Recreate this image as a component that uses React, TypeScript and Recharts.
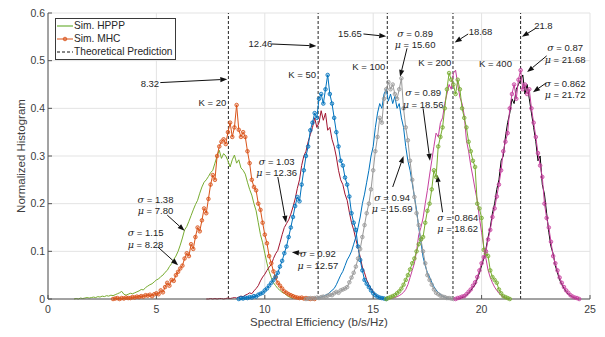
import React from 'react';
import { LineChart, Line, XAxis, YAxis, CartesianGrid, ReferenceLine, ReferenceDot } from 'recharts';

// ---------- data ----------
const STEP = 0.1;
const xTicks = [0, 5, 10, 15, 20, 25];
const yTicks = [0, 0.1, 0.2, 0.3, 0.4, 0.5, 0.6];
const theoretical = [8.32, 12.46, 15.65, 18.68, 21.8];

const hpppK20Start = 1.2;
const hpppK20 = [0, 0.001, 0, 0.002, 0.001, 0.002, 0.003, 0.002, 0.003, 0.004, 0.003, 0.005, 0.004, 0.006, 0.005, 0.007, 0.006, 0.008, 0.007, 0.009, 0.011, 0.013, 0.016, 0.01, 0.008, 0.01, 0.012, 0.011, 0.013, 0.015, 0.017, 0.02, 0.019, 0.024, 0.027, 0.03, 0.032, 0.036, 0.04, 0.042, 0.047, 0.05, 0.056, 0.06, 0.068, 0.074, 0.083, 0.09, 0.1, 0.113, 0.128, 0.145, 0.152, 0.163, 0.175, 0.187, 0.198, 0.207, 0.222, 0.235, 0.245, 0.25, 0.257, 0.265, 0.27, 0.285, 0.3, 0.312, 0.295, 0.305, 0.3, 0.29, 0.277, 0.292, 0.302, 0.285, 0.292, 0.275, 0.27, 0.262, 0.245, 0.23, 0.218, 0.2, 0.185, 0.16, 0.135, 0.118, 0.096, 0.075, 0.058, 0.045, 0.034, 0.028, 0.022, 0.018, 0.014, 0.012, 0.008, 0.005, 0.003, 0.001];

const mhcK20Start = 3.0;
const mhcK20 = [0, 0.001, 0.002, 0, 0.002, 0.001, 0.003, 0.002, 0.002, 0.004, 0.003, 0.005, 0.004, 0.006, 0.005, 0.008, 0.007, 0.009, 0.006, 0.01, 0.012, 0.01, 0.018, 0.014, 0.025, 0.034, 0.028, 0.04, 0.038, 0.05, 0.057, 0.064, 0.07, 0.085, 0.096, 0.09, 0.115, 0.105, 0.13, 0.15, 0.142, 0.165, 0.19, 0.18, 0.21, 0.24, 0.26, 0.25, 0.3, 0.32, 0.33, 0.335, 0.325, 0.35, 0.37, 0.34, 0.36, 0.407, 0.355, 0.34, 0.35, 0.34, 0.31, 0.285, 0.25, 0.235, 0.228, 0.2, 0.187, 0.16, 0.135, 0.117, 0.09, 0.075, 0.058, 0.045, 0.034, 0.028, 0.022, 0.016, 0.013, 0.01, 0.008, 0.006, 0.004, 0.003, 0.002, 0.003, 0.001, 0.002, 0.001, 0, 0.001, 0];

const hpppK50Start = 7.3;
const hpppK50 = [0, 0, 0.001, 0, 0.001, 0, 0.001, 0.001, 0, 0.001, 0.002, 0.001, 0.002, 0.003, 0.002, 0.004, 0.006, 0.005, 0.008, 0.01, 0.013, 0.011, 0.017, 0.022, 0.028, 0.038, 0.046, 0.052, 0.06, 0.067, 0.072, 0.085, 0.095, 0.102, 0.118, 0.135, 0.15, 0.158, 0.166, 0.178, 0.193, 0.21, 0.232, 0.25, 0.28, 0.3, 0.31, 0.33, 0.345, 0.36, 0.38, 0.36, 0.37, 0.395, 0.375, 0.39, 0.354, 0.36, 0.335, 0.32, 0.298, 0.27, 0.25, 0.24, 0.22, 0.207, 0.182, 0.16, 0.145, 0.125, 0.108, 0.088, 0.067, 0.055, 0.04, 0.03, 0.022, 0.015, 0.009, 0.005, 0.002];

const mhcK50Start = 8.8;
const mhcK50 = [0, 0.002, 0.001, 0.003, 0.002, 0.004, 0.003, 0.006, 0.005, 0.009, 0.011, 0.013, 0.018, 0.022, 0.028, 0.034, 0.04, 0.047, 0.055, 0.068, 0.08, 0.096, 0.11, 0.13, 0.15, 0.172, 0.195, 0.214, 0.205, 0.24, 0.27, 0.3, 0.32, 0.354, 0.37, 0.39, 0.38, 0.42, 0.43, 0.41, 0.44, 0.47, 0.43, 0.41, 0.38, 0.35, 0.32, 0.29, 0.28, 0.255, 0.24, 0.215, 0.18, 0.16, 0.145, 0.11, 0.082, 0.06, 0.04, 0.032, 0.025, 0.018, 0.012, 0.008, 0.005, 0.003, 0.002, 0.001, 0];

const hpppK100Start = 12.0;
const hpppK100 = [0, 0.001, 0, 0.002, 0.001, 0.003, 0.004, 0.006, 0.008, 0.01, 0.014, 0.018, 0.022, 0.03, 0.04, 0.05, 0.058, 0.07, 0.082, 0.09, 0.1, 0.115, 0.13, 0.15, 0.172, 0.2, 0.22, 0.245, 0.27, 0.3, 0.32, 0.36, 0.39, 0.41, 0.4, 0.43, 0.44, 0.415, 0.43, 0.41, 0.425, 0.4, 0.41, 0.38, 0.36, 0.32, 0.29, 0.27, 0.243, 0.215, 0.187, 0.15, 0.12, 0.088, 0.07, 0.055, 0.046, 0.035, 0.026, 0.019, 0.014, 0.01, 0.006, 0.004, 0.002, 0];

const mhcK100Start = 11.9;
const mhcK100 = [0, 0.001, 0.002, 0.001, 0.002, 0.003, 0.002, 0.004, 0.005, 0.004, 0.007, 0.009, 0.008, 0.012, 0.015, 0.013, 0.018, 0.02, 0.022, 0.025, 0.035, 0.045, 0.055, 0.068, 0.085, 0.105, 0.13, 0.155, 0.18, 0.2, 0.23, 0.27, 0.31, 0.34, 0.38, 0.37, 0.42, 0.44, 0.455, 0.44, 0.45, 0.43, 0.42, 0.44, 0.463, 0.4, 0.36, 0.333, 0.29, 0.25, 0.214, 0.18, 0.155, 0.125, 0.1, 0.075, 0.05, 0.04, 0.03, 0.02, 0.013, 0.01, 0.007, 0.005, 0.004, 0.002, 0.002, 0.001, 0];

const hpppK200Start = 15.7;
const hpppK200 = [0, 0.001, 0.002, 0.003, 0.005, 0.007, 0.01, 0.014, 0.02, 0.03, 0.045, 0.06, 0.075, 0.1, 0.135, 0.15, 0.17, 0.2, 0.228, 0.26, 0.29, 0.32, 0.348, 0.34, 0.37, 0.38, 0.41, 0.43, 0.45, 0.44, 0.474, 0.48, 0.45, 0.423, 0.41, 0.385, 0.333, 0.31, 0.28, 0.256, 0.23, 0.207, 0.17, 0.14, 0.11, 0.085, 0.06, 0.045, 0.034, 0.025, 0.018, 0.012, 0.008, 0.004, 0.002, 0];

const mhcK200Start = 15.6;
const mhcK200 = [0, 0.002, 0.004, 0.006, 0.008, 0.012, 0.016, 0.022, 0.03, 0.04, 0.05, 0.062, 0.075, 0.085, 0.1, 0.115, 0.125, 0.13, 0.16, 0.185, 0.2, 0.23, 0.27, 0.256, 0.32, 0.34, 0.36, 0.4, 0.44, 0.474, 0.46, 0.45, 0.43, 0.46, 0.44, 0.4, 0.38, 0.36, 0.33, 0.31, 0.29, 0.277, 0.2, 0.19, 0.17, 0.103, 0.095, 0.09, 0.06, 0.046, 0.04, 0.034, 0.02, 0.012, 0.006, 0.004, 0.002, 0];

const hpppK400Start = 18.9;
const hpppK400 = [0, 0.001, 0.003, 0.004, 0.008, 0.012, 0.018, 0.024, 0.03, 0.042, 0.055, 0.07, 0.085, 0.105, 0.13, 0.15, 0.18, 0.2, 0.23, 0.25, 0.29, 0.3, 0.34, 0.37, 0.39, 0.42, 0.41, 0.44, 0.45, 0.46, 0.47, 0.43, 0.45, 0.42, 0.39, 0.36, 0.33, 0.29, 0.3, 0.24, 0.22, 0.18, 0.14, 0.11, 0.095, 0.07, 0.055, 0.04, 0.03, 0.022, 0.015, 0.01, 0.007, 0.004, 0.002, 0.001, 0];

const mhcK400Start = 18.8;
const mhcK400 = [0, 0.002, 0.003, 0.005, 0.006, 0.01, 0.015, 0.02, 0.028, 0.035, 0.046, 0.06, 0.075, 0.088, 0.1, 0.125, 0.145, 0.172, 0.19, 0.215, 0.24, 0.27, 0.31, 0.33, 0.348, 0.4, 0.43, 0.45, 0.42, 0.46, 0.48, 0.44, 0.45, 0.43, 0.44, 0.4, 0.37, 0.34, 0.306, 0.28, 0.256, 0.2, 0.17, 0.15, 0.12, 0.09, 0.075, 0.06, 0.045, 0.034, 0.025, 0.018, 0.013, 0.008, 0.005, 0.003, 0.002, 0];

// annotations (data coordinates)
const theoryLabels = [
  { text: '8.32', tx: 4.7, ty: 0.453, from: [5.18, 0.454], to: [8.27, 0.461] },
  { text: '12.46', tx: 9.8, ty: 0.535, from: [10.3, 0.535], to: [12.38, 0.531] },
  { text: '15.65', tx: 13.93, ty: 0.556, from: [14.55, 0.556], to: [15.6, 0.551] },
  { text: '18.68', tx: 19.95, ty: 0.561, from: [19.38, 0.556], to: [18.76, 0.538] },
  { text: '21.8', tx: 22.85, ty: 0.573, from: [22.5, 0.568], to: [21.86, 0.55] },
];
const kLabels = [
  { text: 'K = 20', x: 8.22, y: 0.413 },
  { text: 'K = 50', x: 12.36, y: 0.472 },
  { text: 'K = 100', x: 15.56, y: 0.488 },
  { text: 'K = 200', x: 18.6, y: 0.497 },
  { text: 'K = 400', x: 21.4, y: 0.494 },
];
const statLabels = [
  { s: '1.38', m: '7.80', x: 4.96, y: 0.21, from: [5.5, 0.176], to: [6.3, 0.143] },
  { s: '1.15', m: '8.28', x: 4.5, y: 0.14, from: [5.07, 0.109], to: [6.0, 0.071] },
  { s: '1.03', m: '12.36', x: 10.55, y: 0.29, from: [10.6, 0.256], to: [10.98, 0.16] },
  { s: '0.92', m: '12.57', x: 12.45, y: 0.096, from: [11.72, 0.096], to: [11.25, 0.098] },
  { s: '0.89', m: '15.60', x: 16.93, y: 0.558, from: [16.56, 0.526], to: [16.24, 0.466] },
  { s: '0.94', m: '15.69', x: 15.87, y: 0.214, from: [15.9, 0.235], to: [16.4, 0.3] },
  { s: '0.89', m: '18.56', x: 17.3, y: 0.434, from: [17.3, 0.4], to: [17.62, 0.29] },
  { s: '0.864', m: '18.62', x: 18.9, y: 0.172, from: [18.2, 0.182], to: [17.95, 0.26] },
  { s: '0.87', m: '21.68', x: 23.85, y: 0.528, from: [23.0, 0.51], to: [22.1, 0.476] },
  { s: '0.862', m: '21.72', x: 23.85, y: 0.453, from: [22.97, 0.453], to: [22.37, 0.434] },
];

// ---------- helpers ----------
const toPoints = (start: number, vals: number[]) =>
  vals.map((y, i) => ({ x: Math.round((start + i * STEP) * 100) / 100, y }));

const FONT = 'Liberation Sans, Arial, Helvetica, sans-serif';

const hpppSeries = [
  { key: 'h20', data: toPoints(hpppK20Start, hpppK20), color: '#77AC30' },
  { key: 'h50', data: toPoints(hpppK50Start, hpppK50), color: '#A2142F' },
  { key: 'h100', data: toPoints(hpppK100Start, hpppK100), color: '#0072BD' },
  { key: 'h200', data: toPoints(hpppK200Start, hpppK200), color: '#C63F9E' },
  { key: 'h400', data: toPoints(hpppK400Start, hpppK400), color: '#000000' },
];
const mhcSeries = [
  { key: 'm20', data: toPoints(mhcK20Start, mhcK20), color: '#D95319' },
  { key: 'm50', data: toPoints(mhcK50Start, mhcK50), color: '#0072BD' },
  { key: 'm100', data: toPoints(mhcK100Start, mhcK100), color: '#999999' },
  { key: 'm200', data: toPoints(mhcK200Start, mhcK200), color: '#77AC30' },
  { key: 'm400', data: toPoints(mhcK400Start, mhcK400), color: '#C63F9E' },
];

const Arrow = (p: any) => {
  const { x1, y1, x2, y2 } = p;
  const dx = x2 - x1;
  const dy = y2 - y1;
  const len = Math.sqrt(dx * dx + dy * dy) || 1;
  const ux = dx / len;
  const uy = dy / len;
  const hl = 7;
  const hw = 2.6;
  const bx = x2 - ux * hl;
  const by = y2 - uy * hl;
  const pts = `${x2},${y2} ${bx - uy * hw},${by + ux * hw} ${bx + uy * hw},${by - ux * hw}`;
  return (
    <g>
      <line x1={x1} y1={y1} x2={bx} y2={by} stroke="#111" strokeWidth={1} />
      <polygon points={pts} fill="#111" />
    </g>
  );
};

const legendStyle: React.CSSProperties = {
  position: 'absolute',
  left: 55,
  top: 18,
  width: 121,
  height: 42,
  border: '1px solid #3a3a3a',
  background: '#fff',
  fontFamily: FONT,
  fontSize: 10.2,
  color: '#262626',
  boxSizing: 'border-box',
  zIndex: 2,
  whiteSpace: 'nowrap',
  overflow: 'hidden',
  lineHeight: '13px',
};

const LegendRow = ({ kind, label }: { kind: string; label: string }) => (
  <div style={{ display: 'flex', alignItems: 'center', height: 13 }}>
    <svg width={16} height={10} style={{ marginLeft: 1, marginRight: 1, flex: 'none' }}>
      {kind === 'hppp' && <line x1={0} y1={5} x2={16} y2={5} stroke="#8cc063" strokeWidth={1.5} />}
      {kind === 'mhc' && (
        <g>
          <line x1={0} y1={5} x2={16} y2={5} stroke="#D95319" strokeWidth={1} />
          <circle cx={8} cy={5} r={1.8} fill="#D95319" fillOpacity={0.5} stroke="#D95319" strokeWidth={0.8} />
        </g>
      )}
      {kind === 'theory' && <line x1={0} y1={5} x2={16} y2={5} stroke="#111" strokeWidth={1} strokeDasharray="3 2" />}
    </svg>
    <span>{label}</span>
  </div>
);

export default function App() {
  return (
    <div style={{ position: 'absolute', left: 0, top: 0, width: 605, height: 337, background: '#fff' }}>
      <LineChart width={605} height={337} margin={{ top: 13, right: 15, left: 0, bottom: 8 }}>
        <CartesianGrid stroke="#e3e3e3" strokeWidth={1} />
        <XAxis
          dataKey="x"
          type="number"
          domain={[0, 25]}
          ticks={xTicks}
          allowDataOverflow
          height={30}
          stroke="#555"
          tickSize={-4}
          tickMargin={11}
          tick={{ fill: '#404040', fontSize: 10.5, fontFamily: FONT }}
          label={{ value: 'Spectral Efficiency (b/s/Hz)', position: 'insideBottom', offset: 3, fill: '#404040', fontSize: 11.5, fontFamily: FONT }}
        />
        <XAxis
          xAxisId="top"
          orientation="top"
          type="number"
          domain={[0, 25]}
          ticks={xTicks}
          height={0}
          stroke="#555"
          tickSize={-4}
          tickFormatter={() => ''}
        />
        <YAxis
          type="number"
          domain={[0, 0.6]}
          ticks={yTicks}
          width={48}
          stroke="#555"
          tickSize={-4}
          tickMargin={7}
          tick={{ fill: '#404040', fontSize: 10.5, fontFamily: FONT }}
          label={{ value: 'Normalized Histogram', angle: -90, position: 'insideLeft', offset: 21, fill: '#404040', fontSize: 11.5, fontFamily: FONT, style: { textAnchor: 'middle' } }}
        />
        <YAxis
          yAxisId="right"
          orientation="right"
          type="number"
          domain={[0, 0.6]}
          ticks={yTicks}
          width={0}
          stroke="#555"
          tickSize={-4}
          tickFormatter={() => ''}
        />
        {theoretical.map((v) => (
          <ReferenceLine key={'t' + v} x={v} stroke="#222" strokeWidth={1} strokeDasharray="3 2" />
        ))}
        {hpppSeries.map((s) => (
          <Line
            key={s.key}
            data={s.data}
            dataKey="y"
            type="linear"
            stroke={s.color}
            strokeWidth={1}
            dot={false}
            activeDot={false}
            isAnimationActive={false}
          />
        ))}
        {mhcSeries.map((s) => (
          <Line
            key={s.key}
            data={s.data}
            dataKey="y"
            type="linear"
            stroke={s.color}
            strokeWidth={1}
            dot={{ r: 1.8, stroke: s.color, strokeWidth: 0.8, fill: s.color, fillOpacity: 0.35 }}
            activeDot={false}
            isAnimationActive={false}
          />
        ))}
        {theoryLabels.map((a) => (
          <ReferenceLine
            key={'ta' + a.text}
            segment={[{ x: a.from[0], y: a.from[1] }, { x: a.to[0], y: a.to[1] }]}
            shape={(p: any) => <Arrow {...p} />}
          />
        ))}
        {statLabels.map((a, i) => (
          <ReferenceLine
            key={'sa' + i}
            segment={[{ x: a.from[0], y: a.from[1] }, { x: a.to[0], y: a.to[1] }]}
            shape={(p: any) => <Arrow {...p} />}
          />
        ))}
        {theoryLabels.map((a) => (
          <ReferenceDot
            key={'tt' + a.text}
            x={a.tx}
            y={a.ty}
            r={0}
            shape={(p: any) => (
              <text x={p.cx} y={p.cy} textAnchor="middle" dominantBaseline="central" fontSize={9.5} fontFamily={FONT} fill="#262626">
                {a.text}
              </text>
            )}
          />
        ))}
        {kLabels.map((a) => (
          <ReferenceDot
            key={'k' + a.text}
            x={a.x}
            y={a.y}
            r={0}
            shape={(p: any) => (
              <text x={p.cx} y={p.cy} textAnchor="end" dominantBaseline="central" fontSize={9.5} fontFamily={FONT} fill="#262626">
                {a.text}
              </text>
            )}
          />
        ))}
        {statLabels.map((a, i) => (
          <ReferenceDot
            key={'st' + i}
            x={a.x}
            y={a.y}
            r={0}
            shape={(p: any) => (
              <text x={p.cx} y={p.cy} textAnchor="middle" dominantBaseline="central" fontSize={9.5} fontFamily={FONT} fill="#262626">
                <tspan x={p.cx}>
                  <tspan fontStyle="italic" fontFamily="DejaVu Serif, serif">σ</tspan>
                  {' = ' + a.s}
                </tspan>
                <tspan x={p.cx} dy="1.2em">
                  <tspan fontStyle="italic" fontFamily="DejaVu Serif, serif">μ</tspan>
                  {' = ' + a.m}
                </tspan>
              </text>
            )}
          />
        ))}
      </LineChart>
      <div style={legendStyle}>
        <LegendRow kind="hppp" label="Sim. HPPP" />
        <LegendRow kind="mhc" label="Sim. MHC" />
        <LegendRow kind="theory" label="Theoretical Prediction" />
      </div>
    </div>
  );
}
